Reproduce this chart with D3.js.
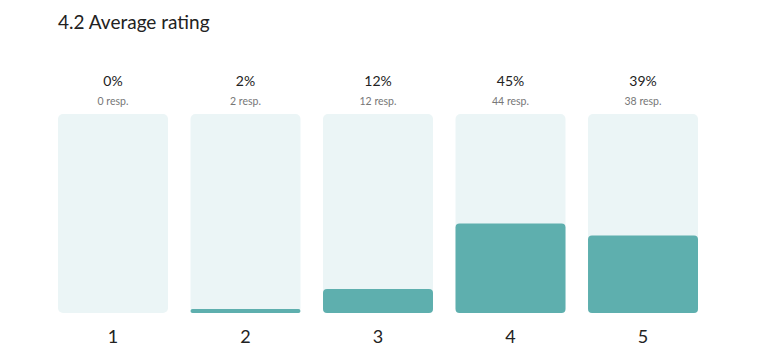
<!DOCTYPE html>
<html><head><meta charset="utf-8">
<script src="https://cdn.jsdelivr.net/npm/d3@7"></script>
<style>body{margin:0;background:#fff;} svg{display:block;font-family:"Source Sans Pro",Lato,"Open Sans",sans-serif;}</style>
</head><body>
<svg id="c" width="762" height="358"></svg>
<script>
const title = "4.2 Average rating";
const categories = ["1","2","3","4","5"];
const percents = [0, 2, 12, 45, 39];
const responses = [0, 2, 12, 44, 38];

const svg = d3.select("#c");
const x = d3.scaleBand().domain(categories).range([47, 709]).paddingInner(0.17).paddingOuter(0.083);
const y = d3.scaleLinear().domain([0, 100]).range([313, 114]);

svg.append("text").attr("x", 58).attr("y", 29).attr("font-size", 19).attr("fill", "#222").text(title);

const g = svg.selectAll("g.bar").data(categories).join("g").attr("class","bar");
g.append("rect").attr("x", d => x(d)).attr("y", y(100)).attr("width", x.bandwidth())
  .attr("height", y(0) - y(100)).attr("rx", 5).attr("fill", "#ebf5f6");
g.append("rect").attr("x", d => x(d)).attr("y", (d,i) => y(percents[i]))
  .attr("width", x.bandwidth()).attr("height", (d,i) => y(0) - y(percents[i]))
  .attr("rx", (d,i) => Math.min(4, (y(0)-y(percents[i]))/2)).attr("fill", "#5eafae");
g.append("text").attr("x", d => x(d) + x.bandwidth()/2).attr("y", 86).attr("text-anchor","middle")
  .attr("font-size", 14).attr("fill", "#222").text((d,i) => percents[i] + "%");
g.append("text").attr("x", d => x(d) + x.bandwidth()/2).attr("y", 105).attr("text-anchor","middle")
  .attr("font-size", 10.5).attr("fill", "#777").text((d,i) => responses[i] + " resp.");
g.append("text").attr("x", d => x(d) + x.bandwidth()/2).attr("y", 343).attr("text-anchor","middle")
  .attr("font-size", 18).attr("fill", "#222").text(d => d);
</script>
</body></html>
